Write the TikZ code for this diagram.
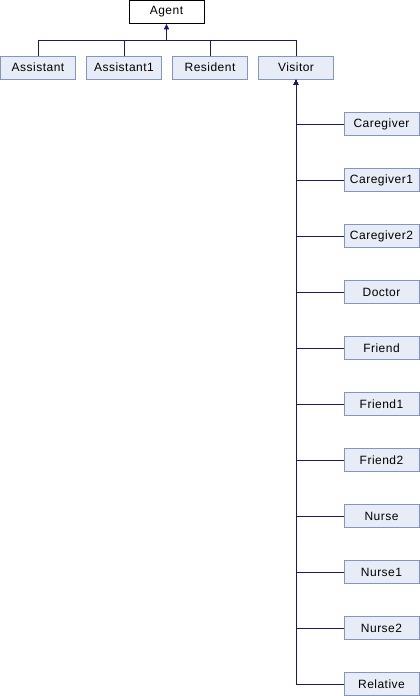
\documentclass[tikz,border=0pt]{standalone}
\usepackage{fontspec}
\setmainfont{Liberation Sans}[LetterSpace=4]
\usetikzlibrary{arrows.meta}

\definecolor{boxfill}{HTML}{E8ECF6}
\definecolor{boxline}{HTML}{7F96C8}
\definecolor{edgeblue}{HTML}{191970}

\tikzset{
  classbox/.style={draw=boxline, fill=boxfill, line width=1pt,
    minimum width=75pt, minimum height=23pt, inner sep=0pt,
    font=\fontsize{12}{14}\selectfont},
  rootbox/.style={classbox, draw=black, fill=white},
  inherit/.style={draw=edgeblue, line width=1pt, -{Latex[length=5pt,width=5pt]}}
}

\begin{document}
\begin{tikzpicture}[x=1pt, y=-1pt]

% Page frame
\useasboundingbox (0,0) rectangle (420,696);

% Base class
\node[rootbox] (Agent) at (166.5,12) {Agent};

% First level children
\node[classbox] (Assistant) at (38,67.5) {Assistant};
\node[classbox] (Assistant1) at (124,67.5) {Assistant1};
\node[classbox] (Resident) at (210,67.5) {Resident};
\node[classbox] (Visitor) at (296,67.5) {Visitor};

% Bar below Agent
\coordinate (agentbar) at (166.5,40);

% Edges to Agent
\foreach \child in {Assistant, Assistant1, Resident, Visitor}
  \draw[inherit] (\child.north) |- (agentbar) -- (Agent.south);

% Children of Visitor (right column)
\foreach \name [count=\i from 0] in {Caregiver, Caregiver1, Caregiver2, Doctor,
    Friend, Friend1, Friend2, Nurse, Nurse1, Nurse2, Relative}
{
  \node[classbox] (\name) at (381.5,124+56*\i) {\name};
  \draw[inherit] (\name.west) -| (Visitor.south);
}

\end{tikzpicture}
\end{document}
